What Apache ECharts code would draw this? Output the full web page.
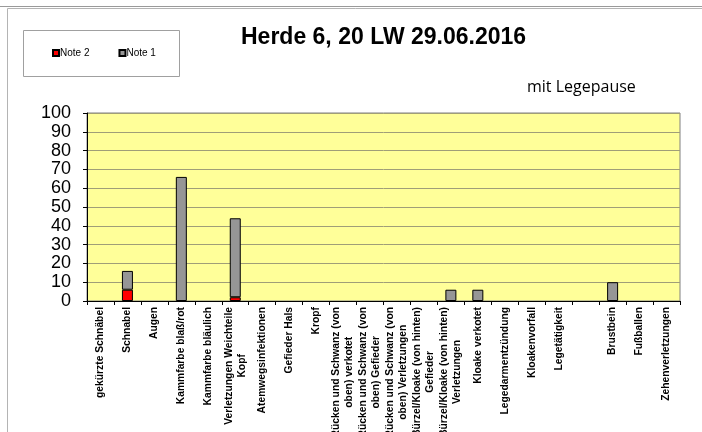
<!DOCTYPE html>
<html>
<head>
<meta charset="utf-8">
<script src="https://cdn.jsdelivr.net/npm/echarts@6/dist/echarts.min.js"></script>
<style>
  html, body { margin: 0; padding: 0; background: #fff; }
  #main { width: 702px; height: 432px; }
</style>
</head>
<body>
<div id="main"></div>
<script>
// Kategorien (x-Achse)
var categories = [
  'gekürzte Schnäbel', 'Schnabel', 'Augen', 'Kammfarbe blaß/rot', 'Kammfarbe bläulich',
  'Verletzungen Weichteile\nKopf', 'Atemwegsinfektionen', 'Gefieder Hals', 'Kropf',
  'Rücken und Schwanz (von\noben) verkotet', 'Rücken und Schwanz (von\noben) Gefieder',
  'Rücken und Schwanz (von\noben) Verletzungen', 'Bürzel/Kloake (von hinten)\nGefieder',
  'Bürzel/Kloake (von hinten)\nVerletzungen', 'Kloake verkotet', 'Legedarmentzündung',
  'Kloakenvorfall', 'Legetätigkeit', '', 'Brustbein', 'Fußballen', 'Zehenverletzungen'
];
var note2 = [0, 6, 0, 0, 0, 2, 0, 0, 0, 0, 0, 0, 0, 0, 0, 0, 0, 0, 0, 0, 0, 0];
var note1 = [0, 10, 0, 66, 0, 42, 0, 0, 0, 0, 0, 0, 0, 6, 6, 0, 0, 0, 0, 10, 0, 0];
var yTicks = [0, 100, 10]; // min, max, interval

var myChart = echarts.init(document.getElementById('main'), null, { renderer: 'canvas' });

var font = 'Liberation Sans, Arial, sans-serif';

// 0 -> kein Balken (sonst sieht man den Rand auf der Achse)
function noZero(arr) {
  return arr.map(function (v) { return v === 0 ? '-' : v; });
}

var option = {
  backgroundColor: '#fff',
  animation: false,
  title: {
    text: 'Herde 6, 20 LW 29.06.2016',
    left: 236,
    top: 21,
    textStyle: { fontFamily: font, fontSize: 23, fontWeight: 'bold', color: '#000' }
  },
  legend: {
    data: ['Note 2', 'Note 1'],
    left: 52,
    top: 48,
    padding: 0,
    itemWidth: 6,
    itemHeight: 6,
    itemGap: 29,
    icon: 'rect',
    textStyle: { fontFamily: font, fontSize: 10, color: '#000', padding: [0, 0, 0, -4] }
  },
  graphic: [
    { type: 'line', shape: { x1: 0, y1: 6.5, x2: 702, y2: 6.5 }, style: { stroke: '#9a9a9a', lineWidth: 1 } },
    { type: 'rect', shape: { x: 7.5, y: 8.5, width: 720, height: 460 }, style: { fill: null, stroke: '#b4b4b4', lineWidth: 1 } },
    { type: 'rect', shape: { x: 23.5, y: 30.5, width: 156, height: 46 }, style: { fill: null, stroke: '#a0a0a0', lineWidth: 1 } },
    { type: 'text', left: 527, top: 79, style: { text: 'mit Legepause', fontFamily: 'Open Sans, sans-serif', fontSize: 16, fill: '#000' } }
  ],
  grid: {
    left: 87,
    top: 113,
    right: 22,
    bottom: 131,
    show: true,
    backgroundColor: '#FFFF99',
    borderColor: '#808080',
    borderWidth: 1,
    outerBoundsMode: 'none'
  },
  xAxis: {
    type: 'category',
    data: categories,
    axisLine: { lineStyle: { color: '#000', width: 1 } },
    axisTick: { show: true, alignWithLabel: false, length: 4, lineStyle: { color: '#000' } },
    axisLabel: {
      interval: 0,
      rotate: 90,
      margin: 6,
      color: '#000',
      fontFamily: font,
      fontSize: 10.3,
      fontWeight: 'bold',
      lineHeight: 13,
      // mehrzeilige Beschriftung zentriert wie im Original
      formatter: function (v) {
        return v.split('\n').map(function (s) { return '{c|' + s + '}'; }).join('\n');
      },
      rich: {
        c: { align: 'center', fontFamily: font, fontSize: 10.3, fontWeight: 'bold', color: '#000', lineHeight: 13 }
      }
    }
  },
  yAxis: {
    type: 'value',
    min: yTicks[0],
    max: yTicks[1],
    interval: yTicks[2],
    axisLine: { show: true, lineStyle: { color: '#000', width: 1 } },
    axisTick: { show: true, length: 4, lineStyle: { color: '#000' } },
    axisLabel: {
      fontFamily: font, fontSize: 18, color: '#000', margin: 16,
      showMinLabel: true, showMaxLabel: true, hideOverlap: false
    },
    splitLine: { show: true, lineStyle: { color: '#a09e78', width: 1 } }
  },
  series: [
    {
      name: 'Note 2',
      type: 'bar',
      stack: 'a',
      barWidth: 11,
      data: noZero(note2),
      itemStyle: { color: '#FF0000', borderColor: '#000', borderWidth: 1 }
    },
    {
      name: 'Note 1',
      type: 'bar',
      stack: 'a',
      barWidth: 11,
      data: noZero(note1),
      itemStyle: { color: '#969696', borderColor: '#000', borderWidth: 1 }
    }
  ]
};

myChart.setOption(option);
</script>
</body>
</html>
